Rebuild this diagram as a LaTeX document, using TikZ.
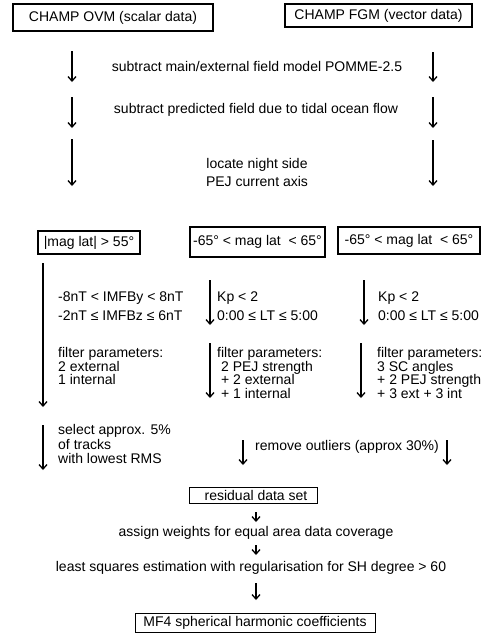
\documentclass[tikz,border=0pt]{standalone}
\usepackage{fontspec}
\setmainfont{Liberation Sans}
\usetikzlibrary{arrows.meta}
\newcommand{\fs}{\fontsize{14}{13.5}\selectfont}
\newcommand{\fsb}{\fontsize{14}{18}\selectfont}
\tikzset{
  txt/.style={font=\fs, inner sep=0pt, align=left, anchor=west},
  ctr/.style={font=\fsb, inner sep=0pt, align=center},
  box/.style={draw, line width=1.1pt, font=\fs, inner sep=0pt},
  arr/.style={line width=1.3pt, -{Straight Barb[length=4.5pt,width=8pt,line width=1.3pt]}},
}
\begin{document}
\begin{tikzpicture}[x=1pt,y=-1pt]
\useasboundingbox (0,0) rectangle (488,640);

% top boxes
\node[box, minimum width=200pt, minimum height=27pt] (ovm) at (113,17.5) {CHAMP OVM (scalar data)};
\node[box, minimum width=187pt, minimum height=23pt] (fgm) at (378.5,15.5) {CHAMP FGM (vector data)};

% step texts
\node[ctr] (t1) at (257,66) {subtract main/external field model POMME-2.5};
\node[ctr] (t2) at (256,110) {subtract predicted field due to tidal ocean flow};
\node[ctr] (t3) at (257,172) {locate night side\\PEJ current axis};

% arrow coordinates, top section
\coordinate (la1) at (72,51);  \coordinate (lb1) at (72,82);
\coordinate (la2) at (72,97);  \coordinate (lb2) at (72,128);
\coordinate (la3) at (72,139); \coordinate (lb3) at (72,186);
\coordinate (ra1) at (433,52); \coordinate (rb1) at (433,82);
\coordinate (ra2) at (433,97); \coordinate (rb2) at (433,128);
\coordinate (ra3) at (433,140);\coordinate (rb3) at (433,186);
\draw[arr] (la1) -- (lb1);
\draw[arr] (la2) -- (lb2);
\draw[arr] (la3) -- (lb3);
\draw[arr] (ra1) -- (rb1);
\draw[arr] (ra2) -- (rb2);
\draw[arr] (ra3) -- (rb3);

% second row boxes
\node[box, line width=1.6pt, minimum width=102pt, minimum height=23pt] (b1) at (89,242.5) {|mag lat| > 55°\hspace{5pt}};
\node[box, line width=1.6pt, minimum width=135pt, minimum height=30pt] (b2) at (257.5,242) {-65° < mag lat\ \ < 65°};
\node[box, line width=1.3pt, minimum width=142pt, minimum height=27pt] (b3) at (409,240.5) {-65° < mag lat\ \ < 65°};

% left column
\coordinate (lc1) at (43,263); \coordinate (ld1) at (43,407);
\draw[arr] (lc1) -- (ld1);
\node[txt] (l1) at (58,306) {-8nT < IMFBy < 8nT\\[5pt]-2nT ≤ IMFBz ≤ 6nT};
\node[txt] (l2) at (58,366) {filter parameters:\\2 external\\1 internal};
\coordinate (lc2) at (43,425); \coordinate (ld2) at (43,470);
\draw[arr] (lc2) -- (ld2);
\node[txt] (l3) at (58,444) {select approx. 5\%\\[0.6pt]of tracks\\[0.6pt]with lowest RMS};

% middle column
\coordinate (mc1) at (210,280); \coordinate (md1) at (210,325);
\draw[arr] (mc1) -- (md1);
\node[txt] (m1) at (217,306) {Kp < 2\\[5pt]0:00 ≤ LT ≤ 5:00};
\coordinate (mc2) at (210,343); \coordinate (md2) at (210,398);
\draw[arr] (mc2) -- (md2);
\node[txt] (m2) at (217,373) {filter parameters:\\\ 2 PEJ strength\\\ + 2 external\\\ + 1 internal};

% right column
\coordinate (rc1) at (364,280); \coordinate (rd1) at (364,325);
\draw[arr] (rc1) -- (rd1);
\node[txt] (r1) at (378,306) {Kp < 2\\[5pt]0:00 ≤ LT ≤ 5:00};
\coordinate (rc2) at (361,343); \coordinate (rd2) at (361,398);
\draw[arr] (rc2) -- (rd2);
\node[txt] (r2) at (377,373) {filter parameters:\\3 SC angles\\+ 2 PEJ strength\\+ 3 ext + 3 int};

% remove outliers
\coordinate (oc1) at (243,440); \coordinate (od1) at (243,465);
\coordinate (oc2) at (447,440); \coordinate (od2) at (447,465);
\draw[arr] (oc1) -- (od1);
\draw[arr] (oc2) -- (od2);
\node[txt] (out) at (255,447) {remove outliers (approx 30\%)};

% bottom chain
\node[box, line width=1pt, minimum width=128pt, minimum height=16pt] (res) at (253,495) {\hspace{6pt}residual data set};
\node[ctr] (w) at (256,533) {assign weights for equal area data coverage};
\node[ctr] (ls) at (251,568) {least squares estimation with regularisation for SH degree > 60};
\node[box, line width=1pt, minimum width=240pt, minimum height=19pt] (mf4) at (255,622.5) {MF4 spherical harmonic coefficients};
\coordinate (s1a) at (256,512); \coordinate (s1b) at (256,522);
\coordinate (s2a) at (256,545); \coordinate (s2b) at (256,555);
\coordinate (s3a) at (256,583); \coordinate (s3b) at (256,600);
\draw[arr] (s1a) -- (s1b);
\draw[arr] (s2a) -- (s2b);
\draw[arr] (s3a) -- (s3b);
\end{tikzpicture}
\end{document}
